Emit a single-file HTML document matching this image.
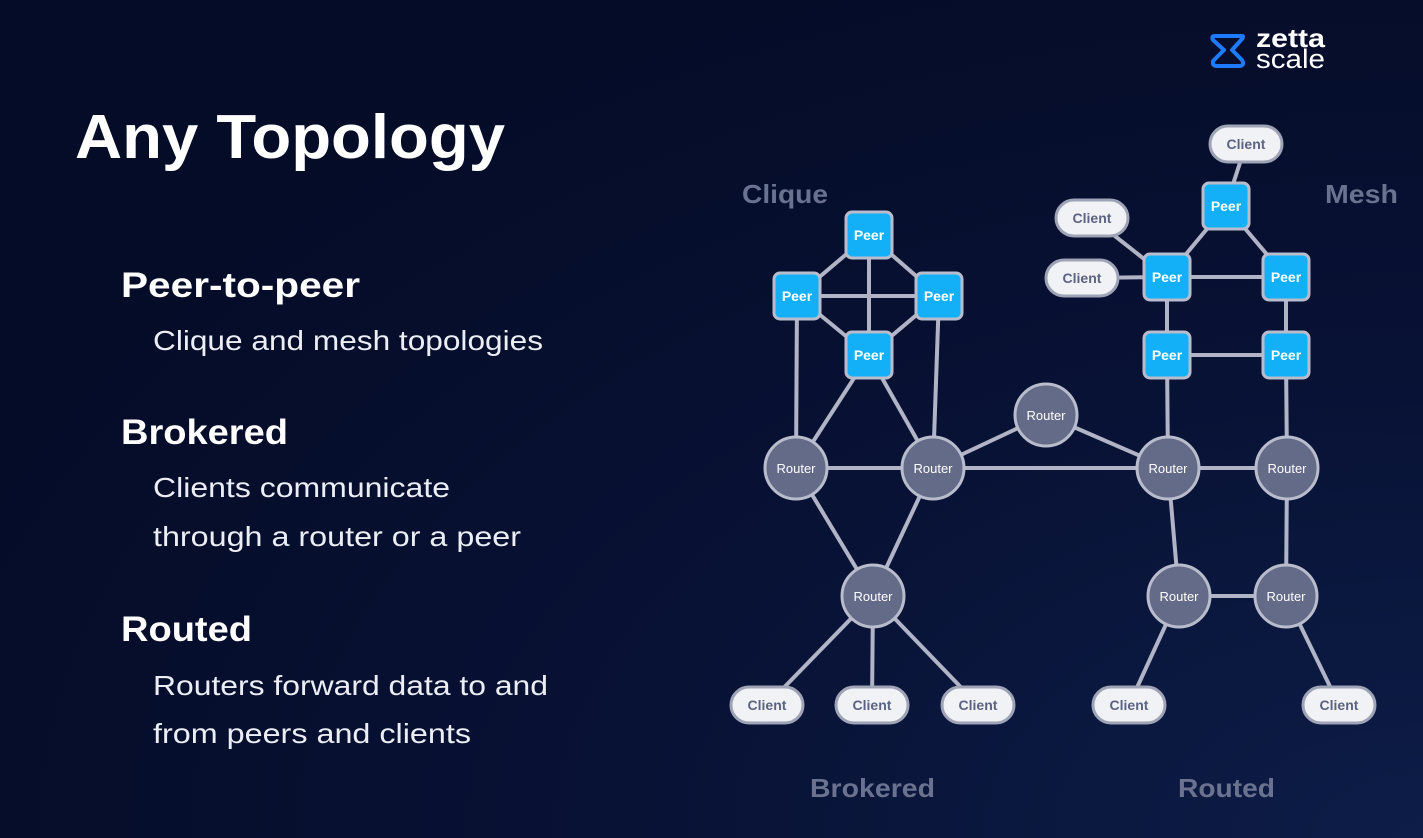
<!DOCTYPE html>
<html><head><meta charset="utf-8"><style>
html,body{margin:0;padding:0;width:1423px;height:838px;overflow:hidden;background:#060d2b}
svg{display:block}
</style></head><body>
<svg width="1423" height="838" viewBox="0 0 1423 838" xmlns="http://www.w3.org/2000/svg" font-family="Liberation Sans, sans-serif">
<defs>
<radialGradient id="bg" cx="1" cy="1" r="1.1">
<stop offset="0" stop-color="#0d1d48"/><stop offset="0.5" stop-color="#081235"/><stop offset="1" stop-color="#050c28"/>
</radialGradient>
</defs>
<rect width="1423" height="838" fill="url(#bg)"/>
<!-- logo -->
<g fill="none" stroke="#1e7bff" stroke-width="4" stroke-linejoin="round">
<path d="M1215 36 H1242 Q1244 36 1242 39 L1232 50 L1242 60 Q1245 65 1240 66 H1217 Q1212 66 1213 61 L1224 50 L1213 40 Q1211 36 1215 36 Z"/>
</g>
<text x="1256" y="47" fill="#fff" font-size="26" font-weight="bold" textLength="69" lengthAdjust="spacingAndGlyphs">zetta</text>
<text x="1256" y="68" fill="#fff" font-size="27" textLength="69" lengthAdjust="spacingAndGlyphs">scale</text>
<!-- left text -->
<text x="75" y="158" fill="#fff" font-size="62" font-weight="bold" textLength="430" lengthAdjust="spacingAndGlyphs">Any Topology</text>
<g fill="#fff" font-size="35" font-weight="bold">
<text x="121" y="297" textLength="239" lengthAdjust="spacingAndGlyphs">Peer-to-peer</text>
<text x="121" y="444" textLength="167" lengthAdjust="spacingAndGlyphs">Brokered</text>
<text x="121" y="641" textLength="131" lengthAdjust="spacingAndGlyphs">Routed</text>
</g>
<g fill="#eceef5" font-size="28">
<text x="153" y="350" textLength="390" lengthAdjust="spacingAndGlyphs">Clique and mesh topologies</text>
<text x="153" y="497" textLength="297" lengthAdjust="spacingAndGlyphs">Clients communicate</text>
<text x="153" y="546" textLength="368" lengthAdjust="spacingAndGlyphs">through a router or a peer</text>
<text x="153" y="695" textLength="395" lengthAdjust="spacingAndGlyphs">Routers forward data to and</text>
<text x="153" y="743" textLength="318" lengthAdjust="spacingAndGlyphs">from peers and clients</text>
</g>
<!-- section labels -->
<g fill="#6a7290" font-size="26" font-weight="bold">
<text x="742" y="203" textLength="86" lengthAdjust="spacingAndGlyphs">Clique</text>
<text x="1325" y="203" textLength="73" lengthAdjust="spacingAndGlyphs">Mesh</text>
<text x="810" y="797" textLength="125" lengthAdjust="spacingAndGlyphs">Brokered</text>
<text x="1178" y="797" textLength="97" lengthAdjust="spacingAndGlyphs">Routed</text>
</g>
<!-- edges -->
<g stroke="#b0b4c6" stroke-width="4" fill="none">
<line x1="869" y1="235" x2="797" y2="296"/><line x1="869" y1="235" x2="939" y2="296"/>
<line x1="869" y1="235" x2="869" y2="355"/><line x1="797" y1="296" x2="939" y2="296"/>
<line x1="797" y1="296" x2="869" y2="355"/><line x1="939" y1="296" x2="869" y2="355"/>
<line x1="797" y1="296" x2="796" y2="468"/><line x1="939" y1="296" x2="933" y2="468"/>
<line x1="869" y1="355" x2="796" y2="468"/><line x1="869" y1="355" x2="933" y2="468"/>
<line x1="796" y1="468" x2="933" y2="468"/><line x1="933" y1="468" x2="1046" y2="415"/>
<line x1="933" y1="468" x2="1168" y2="468"/><line x1="1046" y1="415" x2="1168" y2="468"/>
<line x1="796" y1="468" x2="873" y2="596"/><line x1="933" y1="468" x2="873" y2="596"/>
<line x1="873" y1="596" x2="767" y2="705"/><line x1="873" y1="596" x2="872" y2="705"/><line x1="873" y1="596" x2="978" y2="705"/>
<line x1="1246" y1="144" x2="1226" y2="206"/><line x1="1226" y1="206" x2="1167" y2="277"/><line x1="1226" y1="206" x2="1286" y2="277"/>
<line x1="1092" y1="218" x2="1167" y2="277"/><line x1="1082" y1="278" x2="1167" y2="277"/>
<line x1="1167" y1="277" x2="1286" y2="277"/><line x1="1167" y1="277" x2="1167" y2="355"/><line x1="1286" y1="277" x2="1286" y2="355"/>
<line x1="1167" y1="355" x2="1286" y2="355"/><line x1="1167" y1="355" x2="1168" y2="468"/><line x1="1286" y1="355" x2="1287" y2="468"/>
<line x1="1168" y1="468" x2="1287" y2="468"/><line x1="1168" y1="468" x2="1179" y2="596"/><line x1="1287" y1="468" x2="1286" y2="596"/>
<line x1="1179" y1="596" x2="1286" y2="596"/><line x1="1179" y1="596" x2="1129" y2="705"/><line x1="1286" y1="596" x2="1339" y2="705"/>
</g>
<!-- peers -->
<g fill="#14b0f7" stroke="#b8bccc" stroke-width="3">
<rect x="846" y="212" width="46" height="46" rx="6"/>
<rect x="774" y="273" width="46" height="46" rx="6"/>
<rect x="916" y="273" width="46" height="46" rx="6"/>
<rect x="846" y="332" width="46" height="46" rx="6"/>
<rect x="1203" y="183" width="46" height="46" rx="6"/>
<rect x="1144" y="254" width="46" height="46" rx="6"/>
<rect x="1263" y="254" width="46" height="46" rx="6"/>
<rect x="1144" y="332" width="46" height="46" rx="6"/>
<rect x="1263" y="332" width="46" height="46" rx="6"/>
</g>
<g fill="#fff" font-size="14" font-weight="bold" text-anchor="middle">
<text x="869" y="240">Peer</text><text x="797" y="301">Peer</text><text x="939" y="301">Peer</text><text x="869" y="360">Peer</text>
<text x="1226" y="211">Peer</text><text x="1167" y="282">Peer</text><text x="1286" y="282">Peer</text><text x="1167" y="360">Peer</text><text x="1286" y="360">Peer</text>
</g>
<!-- routers -->
<g fill="#646b89" stroke="#b8bccc" stroke-width="3">
<circle cx="796" cy="468" r="31"/><circle cx="933" cy="468" r="31"/><circle cx="1046" cy="415" r="31"/>
<circle cx="1168" cy="468" r="31"/><circle cx="1287" cy="468" r="31"/><circle cx="873" cy="596" r="31"/>
<circle cx="1179" cy="596" r="31"/><circle cx="1286" cy="596" r="31"/>
</g>
<g fill="#fff" font-size="13" text-anchor="middle">
<text x="796" y="473">Router</text><text x="933" y="473">Router</text><text x="1046" y="420">Router</text>
<text x="1168" y="473">Router</text><text x="1287" y="473">Router</text><text x="873" y="601">Router</text>
<text x="1179" y="601">Router</text><text x="1286" y="601">Router</text>
</g>
<!-- clients -->
<g fill="#f1f2f6" stroke="#9ea3b6" stroke-width="3">
<rect x="1210" y="126" width="72" height="36" rx="18"/>
<rect x="1056" y="200" width="72" height="36" rx="18"/>
<rect x="1046" y="260" width="72" height="36" rx="18"/>
<rect x="731" y="687" width="72" height="36" rx="18"/>
<rect x="836" y="687" width="72" height="36" rx="18"/>
<rect x="942" y="687" width="72" height="36" rx="18"/>
<rect x="1093" y="687" width="72" height="36" rx="18"/>
<rect x="1303" y="687" width="72" height="36" rx="18"/>
</g>
<g fill="#5c6382" font-size="14" font-weight="bold" text-anchor="middle">
<text x="1246" y="149">Client</text><text x="1092" y="223">Client</text><text x="1082" y="283">Client</text>
<text x="767" y="710">Client</text><text x="872" y="710">Client</text><text x="978" y="710">Client</text>
<text x="1129" y="710">Client</text><text x="1339" y="710">Client</text>
</g>
</svg>
</body></html>
